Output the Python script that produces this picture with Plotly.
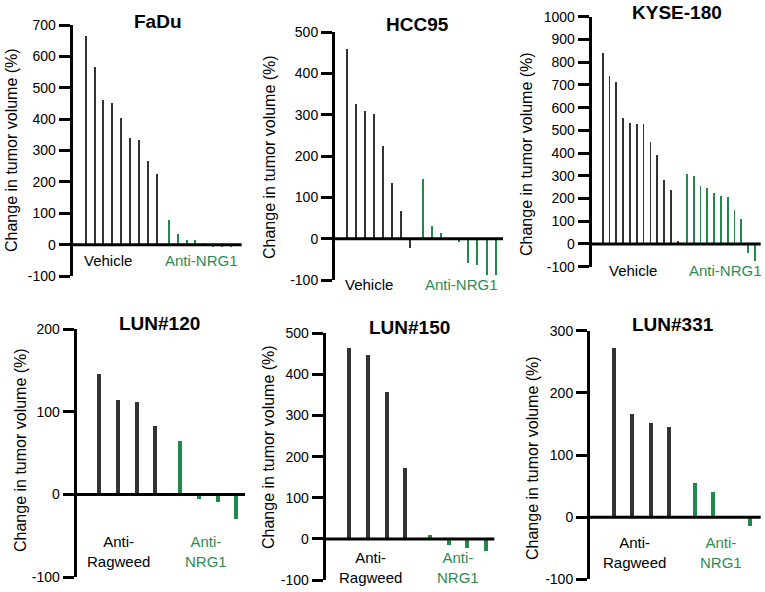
import plotly.graph_objects as go

W, H = 765, 592

# ---------------- data ----------------
panel_titles = ["FaDu", "HCC95", "KYSE-180", "LUN#120", "LUN#150", "LUN#331"]

fadu_vehicle = [665, 565, 460, 450, 405, 340, 335, 266, 224]
fadu_nrg1 = [78, 35, 16, 14, 6, -6, -7, -6]
hcc95_vehicle = [459, 326, 309, 301, 225, 136, 66, -22]
hcc95_nrg1 = [145, 31, 15, 0, -7, -60, -64, -88, -88]
kyse180_vehicle = [842, 740, 712, 556, 533, 528, 528, 448, 390, 282, 237, 13]
kyse180_nrg1 = [308, 300, 255, 245, 225, 211, 208, 150, 109, -41, -75]
lun120_ragweed = [146, 114, 112, 83]
lun120_nrg1 = [65, -5, -9, -29]
lun150_ragweed = [465, 448, 358, 172]
lun150_nrg1 = [10, -16, -22, -29]
lun331_ragweed = [272, 166, 151, 145]
lun331_nrg1 = [55, 40, 0, -14]

fadu_ticks = [-100, 0, 100, 200, 300, 400, 500, 600, 700]
hcc95_ticks = [-100, 0, 100, 200, 300, 400, 500]
kyse180_ticks = [-100, 0, 100, 200, 300, 400, 500, 600, 700, 800, 900, 1000]
lun120_ticks = [-100, 0, 100, 200]
lun150_ticks = [-100, 0, 100, 200, 300, 400, 500]
lun331_ticks = [-100, 0, 100, 200, 300]

control_labels = ["Vehicle", "Vehicle", "Vehicle",
                  "Anti-<br>Ragweed", "Anti-<br>Ragweed", "Anti-<br>Ragweed"]
treated_labels = ["Anti-NRG1", "Anti-NRG1", "Anti-NRG1",
                  "Anti-<br>NRG1", "Anti-<br>NRG1", "Anti-<br>NRG1"]
y_title = "Change in tumor volume (%)"

controls = [fadu_vehicle, hcc95_vehicle, kyse180_vehicle,
            lun120_ragweed, lun150_ragweed, lun331_ragweed]
treated = [fadu_nrg1, hcc95_nrg1, kyse180_nrg1,
           lun120_nrg1, lun150_nrg1, lun331_nrg1]
ticks = [fadu_ticks, hcc95_ticks, kyse180_ticks,
         lun120_ticks, lun150_ticks, lun331_ticks]

# ---------------- layout (pixel geometry) ----------------
# spine_x, end_x, first_bar_x, last_bar_x, top_y, bottom_y, bar_px
geom = [
    (72.7, 241.7, 85.7, 231.0, 25.0, 276.0, 2.0),
    (335.0, 503.0, 346.7, 495.7, 32.3, 280.0, 2.0),
    (591.7, 760.7, 602.7, 755.0, 16.7, 266.7, 1.8),
    (76.7, 245.0, 99.3, 236.3, 329.0, 577.3, 4.0),
    (325.7, 494.3, 349.3, 486.0, 333.3, 580.0, 4.0),
    (590.0, 760.7, 613.7, 750.3, 330.7, 579.3, 4.0),
]
title_pos = [(158, 21), (418, 25), (677, 12), (159, 323), (409, 327), (673, 324)]
ytitle_pos = [(11, 150), (270, 157), (527, 154), (20, 450), (268, 447), (532, 458)]
ctrl_pos = [(108, 260), (369, 285), (633, 270), (118, 551), (370, 567), (634, 552)]
trt_pos = [(201, 260), (461, 285), (725, 270), (206, 551), (458, 567), (721, 552)]

GAP = 1.35
dark = "#333333"
green = "#1f8a4c"
label_green = "#2a8c55"
FONT = "Arial, Liberation Sans, sans-serif"


def px(x):
    return x / W


def py(y):
    return 1 - y / H


fig = go.Figure()
annotations = []
shapes = []

for k in range(6):
    ctrl = controls[k]
    trt = treated[k]
    spine_x, end_x, first_x, last_x, top_y, bot_y, bar_px = geom[k]
    n_c = len(ctrl)
    pos_c = list(range(n_c))
    pos_t = [n_c - 1 + GAP + j for j in range(len(trt))]
    first_pos, last_pos = pos_c[0], pos_t[-1]
    slot = (last_x - first_x) / (last_pos - first_pos)
    x_lo = first_pos - (first_x - spine_x) / slot
    x_hi = last_pos + (end_x - last_x) / slot
    bw = bar_px / slot

    sfx = "" if k == 0 else str(k + 1)
    xa, ya = "x" + sfx, "y" + sfx

    fig.add_trace(go.Bar(x=pos_c, y=ctrl, width=bw, marker=dict(color=dark, line=dict(width=0)),
                         xaxis=xa, yaxis=ya, showlegend=False))
    fig.add_trace(go.Bar(x=pos_t, y=trt, width=bw, marker=dict(color=green, line=dict(width=0)),
                         xaxis=xa, yaxis=ya, showlegend=False))

    tv = ticks[k]
    fig.update_layout(**{
        "xaxis" + sfx: dict(domain=[px(spine_x), px(end_x)], range=[x_lo, x_hi],
                            visible=False, anchor=ya, fixedrange=True, automargin=False),
        "yaxis" + sfx: dict(domain=[py(bot_y), py(top_y)], range=[tv[0], tv[-1]],
                            anchor=xa, showline=True, linewidth=3, linecolor="black",
                            ticks="outside", ticklen=11, tickwidth=3, tickcolor="black",
                            tickvals=tv, ticktext=[str(v) for v in tv],
                            tickfont=dict(family=FONT, size=14, color="black"),
                            showgrid=False, zeroline=False, layer="above traces",
                            fixedrange=True, automargin=False),
    })

    shapes.append(dict(type="line", xref=xa + " domain", yref=ya, x0=0, x1=1, y0=0, y1=0,
                       line=dict(color="black", width=3), layer="above"))

    tx, ty = title_pos[k]
    annotations.append(dict(text="<b>" + panel_titles[k] + "</b>", x=px(tx), y=py(ty),
                            xref="paper", yref="paper", xanchor="center", yanchor="middle",
                            showarrow=False, font=dict(family=FONT, size=19, color="black")))
    ax_, ay_ = ytitle_pos[k]
    annotations.append(dict(text=y_title, x=px(ax_), y=py(ay_), xref="paper", yref="paper",
                            xanchor="center", yanchor="middle", textangle=-90, showarrow=False,
                            font=dict(family=FONT, size=16, color="black")))
    cx, cy = ctrl_pos[k]
    annotations.append(dict(text=control_labels[k], x=px(cx), y=py(cy), xref="paper", yref="paper",
                            xanchor="center", yanchor="middle", showarrow=False,
                            font=dict(family=FONT, size=15, color="black")))
    gx, gy = trt_pos[k]
    annotations.append(dict(text=treated_labels[k], x=px(gx), y=py(gy), xref="paper", yref="paper",
                            xanchor="center", yanchor="middle", showarrow=False,
                            font=dict(family=FONT, size=15, color=label_green)))

fig.update_layout(width=W, height=H, margin=dict(l=0, r=0, t=0, b=0, autoexpand=False),
                  paper_bgcolor="white", plot_bgcolor="white", template="none",
                  annotations=annotations, shapes=shapes, bargap=0, showlegend=False,
                  hovermode=False)

fig.write_html("out.html", config={"displayModeBar": False, "staticPlot": True},
               post_script="document.body.style.margin='0px';document.body.style.overflow='hidden';")
